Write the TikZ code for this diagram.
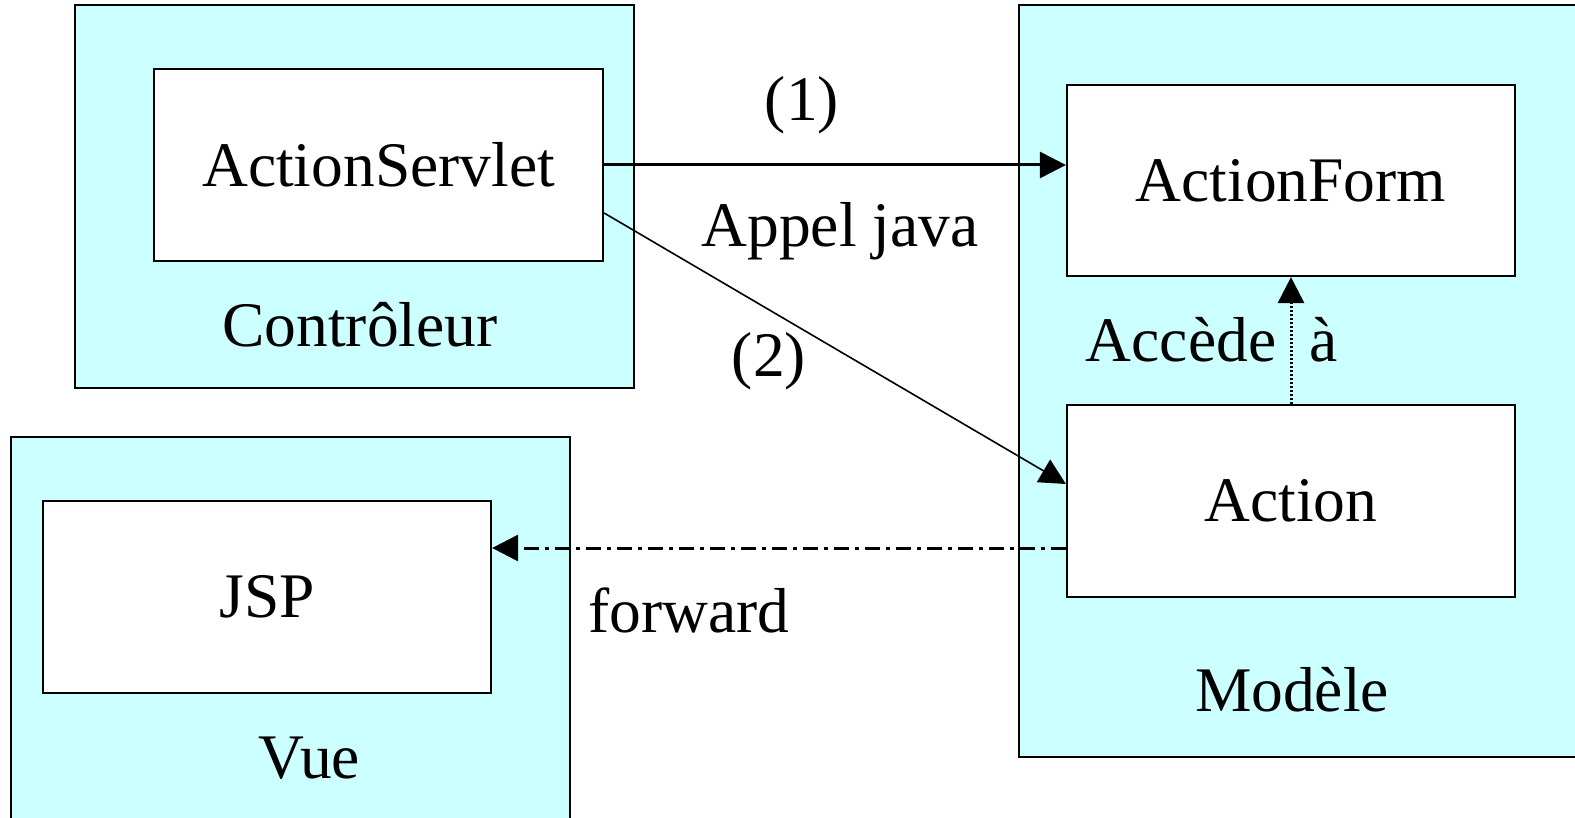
\documentclass[tikz,border=0pt]{standalone}
\usepackage{fontspec}
\setmainfont{Liberation Serif}
\usetikzlibrary{arrows.meta}
\definecolor{boxcyan}{HTML}{CCFFFF}
\begin{document}
\begin{tikzpicture}[x=1pt,y=-1pt,
  outerbox/.style={draw,line width=2.2pt,fill=boxcyan,inner sep=0pt},
  innerbox/.style={draw,line width=2.2pt,fill=white,inner sep=0pt,minimum width=448pt,minimum height=192pt,font=\fontsize{63.5}{70}\selectfont},
  lbl/.style={inner sep=0pt,anchor=base,font=\fontsize{63.5}{70}\selectfont},
  tip/.style={-{Triangle[length=26pt,width=26pt]}},
  dashdot/.style={line width=3pt,dash pattern=on 15pt off 6pt on 4pt off 6pt},
  dots/.style={line width=3pt,dash pattern=on 2pt off 2pt},
  ]
\path[use as bounding box, clip] (0,0) rectangle (1575,818);
% outer boxes
\node[outerbox,minimum width=559pt,minimum height=383pt] (ctrl) at (354.5,196.5) {};
\node[outerbox,minimum width=571pt,minimum height=752pt] (model) at (1304.5,381) {};
\node[outerbox,minimum width=559pt,minimum height=400pt] (view) at (290.5,637) {};
% inner boxes
\node[innerbox,minimum width=449pt] (servlet) at (378.5,165) {ActionServlet};
\node[innerbox,minimum height=191pt] (form) at (1291,180.5) {ActionForm};
\node[innerbox] (action) at (1291,501) {Action};
\node[innerbox] (jsp) at (267,597) {JSP};
% labels
\node[lbl] (lctrl) at (360,347) {Contrôleur};
\node[lbl] (lmodel) at (1292,711) {Modèle};
\node[lbl] (lview) at (309,778) {Vue};
\node[lbl] (l1) at (802,121) {(1)};
\node[lbl] (lappel) at (840,247) {Appel java};
\node[lbl] (l2) at (769,377) {(2)};
\node[lbl] (lacc) at (1181,362) {Accède};
\node[lbl] (la) at (1324,362) {à};
\node[lbl] (lfwd) at (689,632) {forward};
% connectors
\draw[tip,line width=3pt] (servlet.east) -- (servlet.east -| form.west);
\draw[tip,line width=1.6pt] ([yshift=-48pt]servlet.east) -- ([yshift=17pt]action.west);
\draw[tip,dots] (action.north) -- (form.south);
\draw[tip,dashdot] ([yshift=-47pt]action.west) -- ([yshift=-47pt]action.west -| jsp.east);
\end{tikzpicture}
\end{document}
